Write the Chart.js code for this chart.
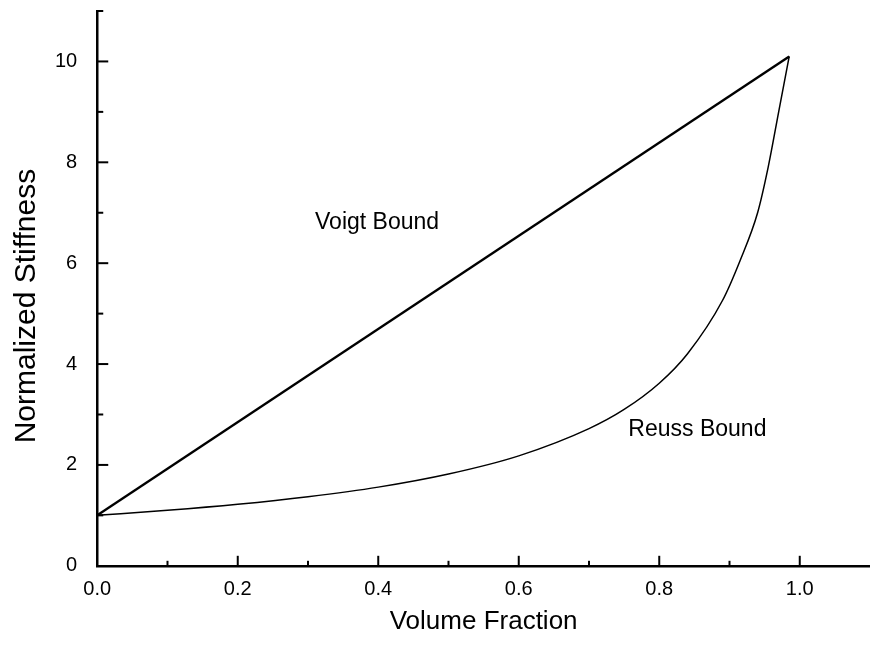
<!doctype html>
<html>
<head>
    <title>Voigt and Reuss Bounds</title>
    <script src="https://cdn.jsdelivr.net/npm/chart.js@4.4.0/dist/chart.umd.min.js"></script>
    <style>
    body { margin: 0; background: #fff; }
    canvas { display: block; }
    </style>
</head>
<body>
    <canvas id="chart-area" width="870" height="648"></canvas>
    <script>
        // values
        var voigtFraction = [0, 0.985];
        var voigtStiffness = [1.0, 10.1];

        var reussFraction = [0, 0.1, 0.2, 0.3, 0.4, 0.5, 0.6, 0.7, 0.75, 0.8, 0.84, 0.89, 0.915, 0.94, 0.955, 0.97, 0.985];
        var reussStiffness = [1.0, 1.1, 1.22, 1.37, 1.56, 1.82, 2.18, 2.72, 3.1, 3.62, 4.2, 5.26, 6.05, 7.0, 7.9, 9.0, 10.1];

        var xTickLabels = ['0.0', '0.2', '0.4', '0.6', '0.8', '1.0'];
        var yTickLabels = ['0', '2', '4', '6', '8', '10'];
        var curveNames = ['Voigt Bound', 'Reuss Bound'];
        var yTitle = 'Normalized Stiffness';

        var FONT = "'Liberation Sans', Arial, Helvetica, sans-serif";

        function toPoints(xs, ys) {
            return xs.map(function(x, i) { return { x: x, y: ys[i] }; });
        }

        // only keep the ticks that carry a label
        function keepLabelled(step, count) {
            return function(scale) {
                scale.ticks = scale.ticks.filter(function(t) {
                    var k = Math.round(t.value / step);
                    return Math.abs(t.value / step - k) < 1e-6 && k < count;
                });
            };
        }

        // inward tick marks, y title and curve labels
        var decorations = {
            id: 'decorations',
            afterDraw: function(chart) {
                var ctx = chart.ctx;
                var xs = chart.scales.x, ys = chart.scales.y;
                var area = chart.chartArea;
                ctx.save();
                ctx.strokeStyle = '#000';
                ctx.lineWidth = 2;
                for (var i = 1; i <= 10; i++) {
                    var px = xs.getPixelForValue(i / 10);
                    var len = (i % 2 === 0) ? 10 : 5;
                    ctx.beginPath();
                    ctx.moveTo(px, area.bottom);
                    ctx.lineTo(px, area.bottom - len);
                    ctx.stroke();
                }
                for (var j = 1; j <= 11; j++) {
                    var py = ys.getPixelForValue(j);
                    var l = (j % 2 === 0) ? 11 : 6;
                    ctx.beginPath();
                    ctx.moveTo(area.left, py);
                    ctx.lineTo(area.left + l, py);
                    ctx.stroke();
                }

                ctx.fillStyle = '#000';
                ctx.font = '23px ' + FONT;
                ctx.textAlign = 'left';
                ctx.textBaseline = 'alphabetic';
                ctx.fillText(curveNames[0], xs.getPixelForValue(0.31), ys.getPixelForValue(6.67));
                ctx.fillText(curveNames[1], xs.getPixelForValue(0.756), ys.getPixelForValue(2.58));

                // y axis title, sits a bit below the middle of the axis
                ctx.translate(27, ys.getPixelForValue(5.15));
                ctx.rotate(-Math.PI / 2);
                ctx.font = '30px ' + FONT;
                ctx.textAlign = 'center';
                ctx.textBaseline = 'middle';
                ctx.fillText(yTitle, 0, 0);
                ctx.restore();
            }
        };

        var config = {
            type: 'line',
            data: {
                datasets: [{
                    label: curveNames[0],
                    data: toPoints(voigtFraction, voigtStiffness),
                    borderColor: '#000',
                    borderWidth: 2.4,
                    pointRadius: 0,
                    fill: false
                }, {
                    label: curveNames[1],
                    data: toPoints(reussFraction, reussStiffness),
                    borderColor: '#000',
                    borderWidth: 1.5,
                    pointRadius: 0,
                    cubicInterpolationMode: 'monotone',
                    fill: false
                }]
            },
            options: {
                responsive: false,
                animation: false,
                layout: {
                    padding: { top: 11, right: 0, bottom: 0, left: 35 }
                },
                plugins: {
                    legend: { display: false },
                    tooltip: { enabled: false }
                },
                scales: {
                    x: {
                        type: 'linear',
                        min: 0,
                        max: 1.1,
                        afterBuildTicks: keepLabelled(0.2, xTickLabels.length),
                        grid: { drawOnChartArea: false, drawTicks: false },
                        border: { color: '#000', width: 2.5 },
                        ticks: {
                            stepSize: 0.2,
                            padding: 12,
                            color: '#000',
                            font: { family: FONT, size: 20 },
                            maxRotation: 0,
                            callback: function(v) {
                                return xTickLabels[Math.round(v * 5)] || '';
                            }
                        },
                        title: {
                            display: true,
                            text: 'Volume Fraction',
                            color: '#000',
                            font: { family: FONT, size: 26 },
                            padding: { top: -8, bottom: 11 }
                        }
                    },
                    y: {
                        min: 0,
                        max: 11,
                        afterBuildTicks: keepLabelled(2, yTickLabels.length),
                        afterFit: function(scale) {
                            // the top label sits well below the axis end, no room needed
                            scale.paddingTop = 0;
                        },
                        grid: { drawOnChartArea: false, drawTicks: false },
                        border: { color: '#000', width: 2.5 },
                        ticks: {
                            stepSize: 2,
                            padding: 20,
                            color: '#000',
                            font: { family: FONT, size: 20 },
                            callback: function(v) {
                                return yTickLabels[Math.round(v / 2)] || '';
                            }
                        },
                        title: { display: false }
                    }
                }
            },
            plugins: [decorations]
        };

        window.onload = function() {
            var ctx = document.getElementById('chart-area').getContext('2d');
            window.myLine = new Chart(ctx, config);
        };
    </script>
</body>
</html>
